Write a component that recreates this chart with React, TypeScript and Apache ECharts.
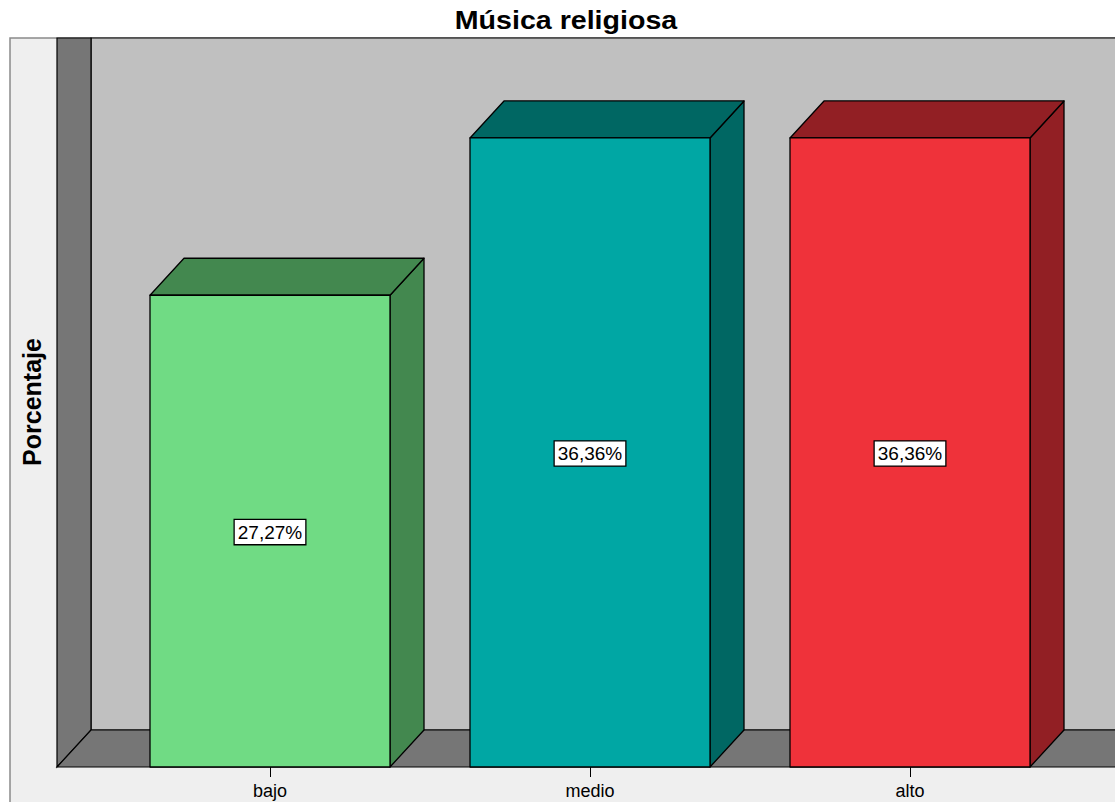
import React, { useEffect, useRef } from "react";
import * as echarts from "echarts";

const categories = ["bajo", "medio", "alto"];
const percentages = [27.27, 36.36, 36.36];
const frontColors = ["#70DB84", "#00A7A4", "#EF323A"];
const depthColors = ["#43884F", "#006763", "#921F24"];
const yMin = 0;
const yMax = 40;

const W = 1115;
const H = 802;
const GRID = { left: 110, right: 45, top: 75, bottom: 35 };
const DX = 34;
const DY = -37;
const FONT = "'Liberation Sans', Arial, sans-serif";

const fmt = (v: number) => v.toFixed(2).replace(".", ",") + "%";

export default function App() {
  const ref = useRef<HTMLDivElement>(null);
  useEffect(() => {
    if (!ref.current) return;
    const chart = echarts.init(ref.current, null, { renderer: "svg" });
    const frontY = H - GRID.bottom;
    const frontX = 57;
    const backX = frontX + DX;
    const backY = frontY + DY;
    const frameTop = 38;
    const line = { stroke: "#000", lineWidth: 1.2 };
    chart.setOption({
      animation: false,
      backgroundColor: "#ffffff",
      graphic: [
        { type: "rect", z: 0, shape: { x: 10, y: frameTop, width: W + 20, height: H }, style: { fill: "#EFEFEF", stroke: "#8a8a8a", lineWidth: 1.5 } },
        { type: "rect", z: 0, shape: { x: backX, y: frameTop, width: W, height: backY - frameTop }, style: { fill: "#C0C0C0", ...line } },
        { type: "polygon", z: 0, shape: { points: [[frontX, frameTop], [backX, frameTop], [backX, backY], [frontX, frontY]] }, style: { fill: "#767676", ...line } },
        { type: "polygon", z: 0, shape: { points: [[frontX, frontY], [backX, backY], [W + 10, backY], [W + 10, frontY]] }, style: { fill: "#767676", ...line } },
        { type: "text", z: 1, x: 566, y: 20, scaleX: 1.1, style: { text: "Música religiosa", font: `bold 26px ${FONT}`, fill: "#000", align: "center", verticalAlign: "middle" } },
        { type: "text", z: 1, x: 32, y: 402, rotation: Math.PI / 2, style: { text: "Porcentaje", font: `bold 25px ${FONT}`, fill: "#000", align: "center", verticalAlign: "middle" } },
      ],
      grid: { left: GRID.left, right: GRID.right, top: GRID.top, bottom: GRID.bottom },
      xAxis: {
        type: "category",
        data: categories,
        boundaryGap: true,
        axisLine: { show: false },
        axisTick: { show: true, alignWithLabel: true, length: 10, lineStyle: { color: "#000", width: 1 } },
        axisLabel: { margin: 15, fontSize: 18, color: "#000", fontFamily: FONT },
        z: 5,
      },
      yAxis: {
        type: "value",
        min: yMin,
        max: yMax,
        show: false,
        splitLine: { show: false },
      },
      series: [
        {
          type: "custom",
          z: 3,
          clip: false,
          data: categories.map((c, i) => [i, percentages[i]]),
          renderItem: (params: any, api: any) => {
            const i = api.value(0);
            const v = api.value(1);
            const base = api.coord([i, 0]);
            const top = api.coord([i, v]);
            const bw = api.size([1, 0])[0] * 0.75;
            const x0 = base[0] - bw / 2;
            const x1 = base[0] + bw / 2;
            const yb = base[1];
            const yt = top[1];
            const st = { stroke: "#000", lineWidth: 1.3, lineJoin: "round" };
            return {
              type: "group",
              children: [
                { type: "polygon", shape: { points: [[x1, yb], [x1 + DX, yb + DY], [x1 + DX, yt + DY], [x1, yt]] }, style: { ...st, fill: depthColors[i] } },
                { type: "polygon", shape: { points: [[x0, yt], [x1, yt], [x1 + DX, yt + DY], [x0 + DX, yt + DY]] }, style: { ...st, fill: depthColors[i] } },
                { type: "rect", shape: { x: x0, y: yt, width: bw, height: yb - yt }, style: { ...st, fill: frontColors[i] } },
                {
                  type: "text",
                  x: base[0],
                  y: (yb + yt) / 2 + 1,
                  style: {
                    text: fmt(v),
                    font: `19px ${FONT}`,
                    fill: "#000",
                    align: "center",
                    verticalAlign: "middle",
                    backgroundColor: "#fff",
                    borderColor: "#000",
                    borderWidth: 1.3,
                    padding: [3, 3, 2, 3],
                  },
                },
              ],
            };
          },
        },
      ],
    });
    return () => chart.dispose();
  }, []);
  return <div ref={ref} style={{ position: "fixed", left: 0, top: 0, width: W, height: H }} />;
}
